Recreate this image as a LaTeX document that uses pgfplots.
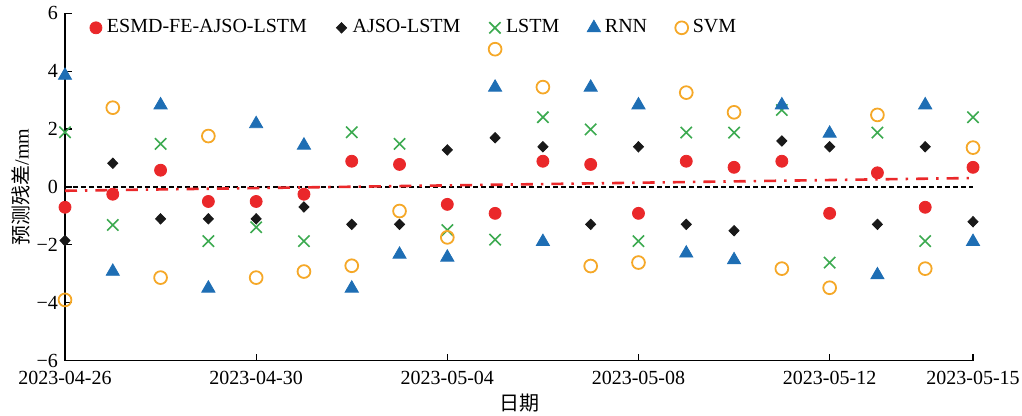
\documentclass[border=0pt]{standalone}
\usepackage{fontspec}
\setmainfont{Liberation Serif}
\newfontfamily\cjk{Noto Sans CJK SC}
\usepackage{pgfplots}
\usepackage{pgfplotstable}
\pgfplotsset{compat=1.18}
\usetikzlibrary{calc}
\definecolor{cred}{RGB}{234,40,42}
\definecolor{cgreen}{RGB}{60,170,80}
\definecolor{cblue}{RGB}{30,110,180}
\definecolor{corange}{RGB}{245,168,40}
\pgfplotstableread{
x esmd ajso lstm rnn svm
0 -0.70 -1.85 1.89 3.85 -3.90
1 -0.25 0.82 -1.31 -2.92 2.74
2 0.58 -1.10 1.49 2.83 -3.13
3 -0.50 -1.10 -1.87 -3.50 1.76
4 -0.50 -1.10 -1.39 2.18 -3.13
5 -0.25 -0.69 -1.87 1.44 -2.92
6 0.89 -1.29 1.89 -3.50 -2.72
7 0.78 -1.29 1.49 -2.33 -0.83
8 -0.60 1.28 -1.49 -2.43 -1.74
9 -0.91 1.70 -1.82 3.44 4.76
10 0.89 1.39 2.41 -1.89 3.45
11 0.78 -1.29 1.99 3.44 -2.73
12 -0.91 1.39 -1.87 2.83 -2.61
13 0.89 -1.29 1.88 -2.29 3.26
14 0.68 -1.51 1.88 -2.52 2.58
15 0.89 1.59 2.66 2.83 -2.82
16 -0.91 1.39 -2.61 1.85 -3.48
17 0.49 -1.29 1.88 -3.04 2.49
18 -0.70 1.39 -1.87 2.83 -2.82
19 0.68 -1.20 2.41 -1.89 1.36
}\datatable
\pgfplotsset{mymarklegend/.style={legend image code/.code={\draw[mark repeat=2,mark phase=2,##1] plot coordinates {(0cm,0cm) (0.15cm,0cm) (0.3cm,0cm)}; \path (0cm,0cm) (7.6pt,0cm);}}}
\begin{document}
\begin{tikzpicture}
\begin{axis}[name=ax,
  scale only axis, width=454pt, height=173.7pt,
  xmin=0, xmax=19, ymin=-6, ymax=6,
  axis x line*=bottom, axis y line*=left,
  xtick={0,4,8,12,16,19},
  xticklabels={2023-04-26,2023-04-30,2023-05-04,2023-05-08,2023-05-12,2023-05-15},
  ytick={-6,-4,-2,0,2,4,6},
  yticklabels={−6,−4,−2,0,2,4,6},
  tick align=inside, major tick length=3.5pt,
  tick style={black, line width=0.6pt},
  axis line style={black, line width=0.6pt},
  clip=false,
  tick label style={font=\fontsize{10}{12}\selectfont},
  xticklabel style={yshift=-1.5pt},
  xlabel={\cjk 日期},
  ylabel={{\cjk 预测残差}/mm},
  label style={font=\fontsize{10}{12}\selectfont},
  xlabel style={at={(axis description cs:0.5,0)}, anchor=center, yshift=-21pt},
  ylabel style={at={(axis description cs:-0.0485,0.5)}, anchor=center},
  legend columns=5,
  legend style={draw=none, fill=none, at={(0,1)}, anchor=north west, xshift=7.8pt, yshift=1pt,
    font=\fontsize{10}{12}\selectfont,
    /tikz/every even column/.append style={column sep=10.8pt}},
]
\addplot[black, line width=0.6pt, dash pattern=on 2.5pt off 1.5pt, forget plot] coordinates {(0,0) (19,0)};
\addplot[cred, line width=1.3pt, dash pattern=on 6pt off 4pt on 1.2pt off 4pt, forget plot] coordinates {(0,-0.13) (19,0.31)};
\addplot[only marks, mymarklegend, mark=*, mark size=3pt, color=cred, mark options={fill=cred, draw=cred}] table[x=x, y=esmd] {\datatable};
\addlegendentry{ESMD-FE-AJSO-LSTM}
\addplot[only marks, mymarklegend, mark=diamond*, mark size=2.6pt, color=black!90, mark options={fill=black!90, xscale=1.3}] table[x=x, y=ajso] {\datatable};
\addlegendentry{AJSO-LSTM}
\addplot[only marks, mymarklegend, mark=x, mark size=4pt, color=cgreen, mark options={line width=0.8pt}] table[x=x, y=lstm] {\datatable};
\addlegendentry{LSTM}
\addplot[only marks, mymarklegend, mark=triangle*, mark size=3.8pt, color=cblue, mark options={fill=cblue}] table[x=x, y=rnn] {\datatable};
\addlegendentry{RNN}
\addplot[only marks, mymarklegend, mark=o, mark size=3.2pt, color=corange, mark options={line width=0.9pt, fill=none}] table[x=x, y=svm] {\datatable};
\addlegendentry{SVM}
\end{axis}
\pgfresetboundingbox
\path[use as bounding box] ($(ax.south west)+(-32.5pt,-27.65pt)$) rectangle ($(ax.north east)+(24.5pt,6.65pt)$);
\end{tikzpicture}
\end{document}
